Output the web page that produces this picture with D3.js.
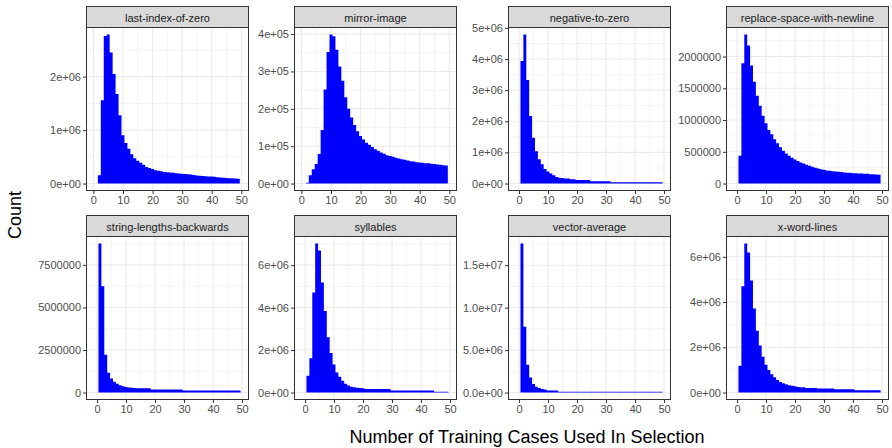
<!DOCTYPE html>
<html>
<head>
<meta charset="utf-8">
<script src="https://cdn.jsdelivr.net/npm/d3@7"></script>
<style>
  body { margin: 0; background: #ffffff; }
  svg { display: block; }
  text { font-family: "Liberation Sans", Arial, Helvetica, sans-serif; }
</style>
</head>
<body>
<svg id="chart" width="892" height="448"></svg>
<script>
// Problems, one facet each
const problems = [
  "last-index-of-zero", "mirror-image", "negative-to-zero", "replace-space-with-newline",
  "string-lengths-backwards", "syllables", "vector-average", "x-word-lines"
];

// Number of training cases used in a selection event (one bin per value)
const trainingCases = [
  1, 2, 3, 4, 5, 6, 7, 8, 9, 10, 11, 12, 13, 14, 15, 16, 17, 18, 19, 20,
  21, 22, 23, 24, 25, 26, 27, 28, 29, 30, 31, 32, 33, 34, 35, 36, 37, 38, 39, 40,
  41, 42, 43, 44, 45, 46, 47, 48, 49
];

// Counts per bin, one array per problem
const lastIndexOfZero = [
  0, 156000, 1560000, 2760000, 2790000, 2450000, 2050000, 1675000, 1280000, 906000,
  760000, 650000, 550000, 475000, 425000, 390000, 350000, 310000, 290000, 270000,
  250000, 240000, 230000, 215000, 210000, 205000, 200000, 195000, 190000, 185000,
  180000, 175000, 170000, 160000, 150000, 145000, 140000, 135000, 130000, 130000,
  125000, 120000, 115000, 110000, 105000, 100000, 100000, 95000, 90000
];
const mirrorImage = [
  0, 2000, 22000, 38000, 52000, 79000, 143000, 252000, 352000, 399000,
  394000, 358000, 313000, 275000, 231000, 200000, 177000, 157000, 140000, 127000,
  118000, 109000, 104000, 97500, 92000, 88000, 83000, 80000, 76000, 74000,
  72000, 69000, 67000, 65000, 63500, 62000, 60000, 59000, 57000, 56500,
  55500, 54500, 54000, 53000, 52000, 51000, 50000, 49000, 48500
];
const negativeToZero = [
  3940000, 4790000, 3330000, 2170000, 1470000, 1040000, 780000, 620000, 470000, 390000,
  320000, 270000, 210000, 190000, 180000, 160000, 160000, 140000, 140000, 110000,
  110000, 110000, 110000, 110000, 75000, 75000, 75000, 75000, 75000, 75000,
  75000, 45000, 45000, 45000, 45000, 45000, 45000, 45000, 45000, 45000,
  45000, 45000, 45000, 45000, 45000, 45000, 45000, 45000, 45000
];
const replaceSpaceWithNewline = [
  438000, 1894000, 2348000, 2174000, 1858000, 1604000, 1383000, 1224000, 1066000, 950000,
  844000, 776000, 697000, 633000, 570000, 517000, 475000, 438000, 406000, 380000,
  354000, 332000, 317000, 296000, 280000, 264000, 248000, 237000, 227000, 216000,
  206000, 200000, 195000, 190000, 185000, 180000, 174000, 169000, 169000, 164000,
  164000, 158000, 158000, 153000, 153000, 148000, 148000, 142000, 137000
];
const stringLengthsBackwards = [
  8760000, 6250000, 2220000, 1160000, 825000, 630000, 510000, 430000, 370000, 330000,
  300000, 280000, 270000, 250000, 250000, 250000, 250000, 250000, 180000, 180000,
  180000, 180000, 180000, 180000, 180000, 180000, 180000, 180000, 180000, 120000,
  120000, 120000, 120000, 120000, 120000, 120000, 120000, 120000, 120000, 120000,
  120000, 120000, 120000, 120000, 120000, 120000, 120000, 120000, 120000
];
const syllables = [
  790000, 1620000, 4710000, 7020000, 6690000, 5180000, 3840000, 2600000, 1860000, 1320000,
  940000, 740000, 550000, 410000, 330000, 270000, 250000, 230000, 210000, 200000,
  170000, 170000, 170000, 170000, 170000, 170000, 170000, 170000, 170000, 100000,
  100000, 100000, 100000, 100000, 100000, 100000, 100000, 100000, 100000, 100000,
  100000, 100000, 100000, 100000, 35000, 35000, 35000, 35000, 35000
];
const vectorAverage = [
  17560000, 7760000, 3270000, 1770000, 1020000, 670000, 550000, 430000, 350000, 240000,
  240000, 240000, 240000, 80000, 80000, 80000, 80000, 80000, 80000, 80000,
  80000, 80000, 80000, 80000, 80000, 80000, 80000, 80000, 80000, 80000,
  80000, 80000, 80000, 80000, 80000, 80000, 80000, 80000, 80000, 80000,
  80000, 80000, 80000, 80000, 80000, 80000, 80000, 80000, 80000
];
const xWordLines = [
  1180000, 4700000, 6590000, 6190000, 4950000, 3710000, 2730000, 2080000, 1580000, 1230000,
  1000000, 810000, 680000, 560000, 470000, 410000, 370000, 325000, 295000, 280000,
  250000, 235000, 235000, 205000, 205000, 205000, 205000, 180000, 180000, 180000,
  180000, 180000, 180000, 150000, 150000, 150000, 150000, 150000, 150000, 150000,
  100000, 100000, 100000, 100000, 100000, 100000, 100000, 100000, 100000
];
const countsByProblem = [
  lastIndexOfZero, mirrorImage, negativeToZero, replaceSpaceWithNewline,
  stringLengthsBackwards, syllables, vectorAverage, xWordLines
];

// Data range covered on the x axis of each facet (free scales)
const xDataRanges = [
  [0, 50.1], [0, 50.1], [-1.25, 49.85], [-1.25, 49.85],
  [-1.25, 49.85], [-1.25, 49.85], [-1.25, 49.85], [-1.25, 49.85]
];

// Tick values and labels
const xTickValues = [0, 10, 20, 30, 40, 50];
const xTickLabels = ["0", "10", "20", "30", "40", "50"];
const yTickValues = [
  [0, 1e6, 2e6],
  [0, 1e5, 2e5, 3e5, 4e5],
  [0, 1e6, 2e6, 3e6, 4e6, 5e6],
  [0, 500000, 1000000, 1500000, 2000000],
  [0, 2500000, 5000000, 7500000],
  [0, 2e6, 4e6, 6e6],
  [0, 5e6, 1e7, 1.5e7],
  [0, 2e6, 4e6, 6e6]
];
const yTickLabels = [
  ["0e+00", "1e+06", "2e+06"],
  ["0e+00", "1e+05", "2e+05", "3e+05", "4e+05"],
  ["0e+00", "1e+06", "2e+06", "3e+06", "4e+06", "5e+06"],
  ["0", "500000", "1000000", "1500000", "2000000"],
  ["0", "2500000", "5000000", "7500000"],
  ["0e+00", "2e+06", "4e+06", "6e+06"],
  ["0.0e+00", "5.0e+06", "1.0e+07", "1.5e+07"],
  ["0e+00", "2e+06", "4e+06", "6e+06"]
];

const xTitle = "Number of Training Cases Used In Selection";
const yTitle = "Count";

// ---- layout ----
const colLeft = [86, 294, 508, 726];
const panelW = 163;
const stripTop = [6, 215];
const stripH = 21;
const panelH = 164;

const svg = d3.select("#chart");
svg.append("rect").attr("width", 892).attr("height", 448).attr("fill", "#ffffff");

function expand(range, mult) {
  const d = range[1] - range[0];
  return [range[0] - mult * d, range[1] + mult * d];
}

problems.forEach((name, i) => {
  const row = Math.floor(i / 4), col = i % 4;
  const left = colLeft[col];
  const top = stripTop[row] + stripH;
  const counts = countsByProblem[i];
  const maxCount = d3.max(counts);

  const x = d3.scaleLinear().domain(expand(xDataRanges[i], 0.05)).range([0, panelW]);
  const y = d3.scaleLinear().domain(expand([0, maxCount], 0.05)).range([panelH, 0]);

  const g = svg.append("g").attr("transform", `translate(${left},${top})`);

  g.append("rect").attr("width", panelW).attr("height", panelH).attr("fill", "#ffffff");

  // minor grid
  const [xd0, xd1] = x.domain();
  const xMinor = [];
  for (let k = 0; k < xTickValues.length + 1; k++) {
    const v = (k - 0.5) * (xTickValues[1] - xTickValues[0]) + xTickValues[0];
    if (v > xd0 && v < xd1) xMinor.push(v);
  }
  const yt = yTickValues[i];
  const ystep = yt[1] - yt[0];
  const [yd0, yd1] = y.domain();
  const yMinor = [];
  for (let k = 0; k <= yt.length; k++) {
    const v = yt[0] + (k - 0.5) * ystep;
    if (v > yd0 && v < yd1) yMinor.push(v);
  }
  const grid = g.append("g").attr("fill", "none");
  xMinor.forEach(v => grid.append("line")
    .attr("x1", x(v)).attr("x2", x(v)).attr("y1", 0).attr("y2", panelH)
    .attr("stroke", "#EBEBEB").attr("stroke-width", 0.55));
  yMinor.forEach(v => grid.append("line")
    .attr("x1", 0).attr("x2", panelW).attr("y1", y(v)).attr("y2", y(v))
    .attr("stroke", "#EBEBEB").attr("stroke-width", 0.55));
  xTickValues.filter(v => v > xd0 && v < xd1).forEach(v => grid.append("line")
    .attr("x1", x(v)).attr("x2", x(v)).attr("y1", 0).attr("y2", panelH)
    .attr("stroke", "#EBEBEB").attr("stroke-width", 1.1));
  yt.forEach(v => grid.append("line")
    .attr("x1", 0).attr("x2", panelW).attr("y1", y(v)).attr("y2", y(v))
    .attr("stroke", "#EBEBEB").attr("stroke-width", 1.1));

  // histogram as one stepped outline so adjacent bins show no seams
  const pts = [];
  trainingCases.forEach((c, j) => {
    pts.push([x(c - 0.5), y(counts[j])]);
    pts.push([x(c + 0.5), y(counts[j])]);
  });
  const base = y(0);
  const d = `M${pts[0][0]},${base}` + pts.map(p => `L${p[0]},${p[1]}`).join("") +
            `L${pts[pts.length - 1][0]},${base}Z`;
  g.append("path").attr("d", d).attr("fill", "#0000FF");

  // panel border
  g.append("rect").attr("x", 0.5).attr("y", 0.5)
    .attr("width", panelW - 1).attr("height", panelH - 1)
    .attr("fill", "none").attr("stroke", "#333333").attr("stroke-width", 1);

  // strip
  const s = svg.append("g").attr("transform", `translate(${left},${stripTop[row]})`);
  s.append("rect").attr("x", 0.5).attr("y", 0.5).attr("width", panelW - 1).attr("height", stripH)
    .attr("fill", "#D9D9D9").attr("stroke", "#333333").attr("stroke-width", 1);
  s.append("text").attr("x", panelW / 2).attr("y", stripH / 2 + 1)
    .attr("text-anchor", "middle").attr("dominant-baseline", "central")
    .attr("font-size", "11px").attr("fill", "#1A1A1A").text(name);

  // axes
  const yAxis = d3.axisLeft(y).tickValues(yt)
    .tickFormat((v, k) => yTickLabels[i][k]).tickSize(3).tickPadding(2);
  const ya = g.append("g").call(yAxis);
  const xAxis = d3.axisBottom(x).tickValues(xTickValues)
    .tickFormat((v, k) => xTickLabels[k]).tickSize(3).tickPadding(2);
  const xa = g.append("g").attr("transform", `translate(0,${panelH})`).call(xAxis);
  [ya, xa].forEach(a => {
    a.select(".domain").remove();
    a.selectAll(".tick line").attr("stroke", "#333333");
    a.selectAll(".tick text").attr("fill", "#4D4D4D")
      .style("font-family", '"Liberation Sans", Arial, Helvetica, sans-serif')
      .style("font-size", "11px");
  });
});

// axis titles
svg.append("text").attr("x", 527).attr("y", 437)
  .attr("text-anchor", "middle").attr("dominant-baseline", "central")
  .attr("font-size", "18px").attr("fill", "#000000").text(xTitle);
svg.append("text").attr("transform", "translate(15,215) rotate(-90)")
  .attr("text-anchor", "middle").attr("dominant-baseline", "central")
  .attr("font-size", "18px").attr("fill", "#000000").text(yTitle);
</script>
</body>
</html>
